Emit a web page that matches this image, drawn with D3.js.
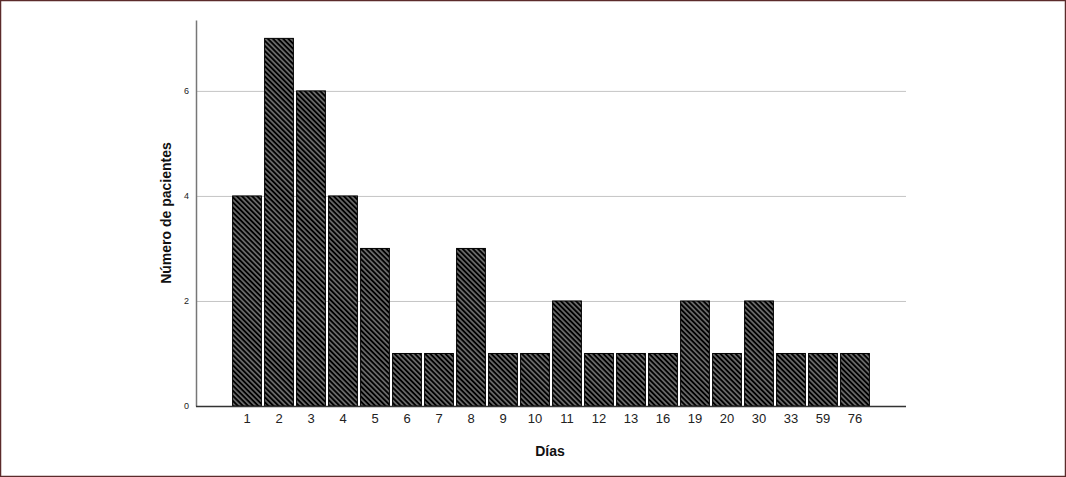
<!DOCTYPE html>
<html>
<head>
<meta charset="utf-8">
<script src="https://cdn.jsdelivr.net/npm/d3@7"></script>
<style>
  html, body { margin: 0; padding: 0; background: #fff; }
  svg { display: block; font-family: Arial, "Liberation Sans", sans-serif; }
</style>
</head>
<body>
<svg id="chart" width="1066" height="477"></svg>
<script>
  const days = ['1', '2', '3', '4', '5', '6', '7', '8', '9', '10', '11', '12', '13', '16', '19', '20', '30', '33', '59', '76'];
  const patients = [4, 7, 6, 4, 3, 1, 1, 3, 1, 1, 2, 1, 1, 1, 2, 1, 2, 1, 1, 1];
  const yTicks = [0, 2, 4, 6];

  {
    const svg = d3.select('#chart');
    const plotLeft = 196, plotRight = 906, plotTop = 20, plotBottom = 406;

    // frame
    svg.append('rect')
      .attr('x', 0.5).attr('y', 0.5)
      .attr('width', 1065).attr('height', 476)
      .attr('fill', 'none')
      .attr('stroke', '#5b2b2b')
      .attr('stroke-width', 1.5);

    const defs = svg.append('defs');
    const pat = defs.append('pattern')
      .attr('id', 'hatch')
      .attr('patternUnits', 'userSpaceOnUse')
      .attr('width', 3.6).attr('height', 3.6)
      .attr('patternTransform', 'rotate(-45)');
    pat.append('rect').attr('width', 3.6).attr('height', 3.6).attr('fill', '#000');
    pat.append('line')
      .attr('x1', 1.8).attr('y1', 0).attr('x2', 1.8).attr('y2', 3.6)
      .attr('stroke', '#b8b8b8').attr('stroke-width', 1);

    const x = d3.scaleBand()
      .domain(days)
      .range([plotLeft + 35, plotRight - 35])
      .paddingInner(0.1)
      .paddingOuter(0.05);

    const y = d3.scaleLinear()
      .domain([0, 7.35])
      .range([plotBottom, plotTop]);

    // gridlines
    svg.append('g')
      .selectAll('line')
      .data(yTicks.filter(d => d > 0))
      .join('line')
      .attr('x1', plotLeft).attr('x2', plotRight)
      .attr('y1', d => y(d) + 0.5).attr('y2', d => y(d) + 0.5)
      .attr('stroke', '#c4c4c4')
      .attr('stroke-width', 1);

    // bars
    svg.append('g')
      .selectAll('rect')
      .data(patients)
      .join('rect')
      .attr('x', (d, i) => x(days[i]))
      .attr('y', d => y(d))
      .attr('width', x.bandwidth())
      .attr('height', d => y(0) - y(d))
      .attr('fill', 'url(#hatch)')
      .attr('stroke', '#000')
      .attr('stroke-width', 1);

    // y axis
    const yAxis = svg.append('g')
      .attr('transform', `translate(${plotLeft},0)`)
      .call(d3.axisLeft(y).tickValues(yTicks).tickSize(0).tickPadding(7));
    yAxis.select('.domain').attr('stroke', '#777').attr('stroke-width', 1.5);
    yAxis.selectAll('text').attr('font-size', 9).attr('fill', '#222');

    // x axis
    const xAxis = svg.append('g')
      .attr('transform', `translate(0,${plotBottom})`)
      .call(d3.axisBottom(x).tickSize(0).tickPadding(8).tickSizeOuter(0));
    xAxis.select('.domain').attr('d', `M${plotLeft},0.5H${plotRight}`).attr('stroke', '#333').attr('stroke-width', 1.5);
    xAxis.selectAll('text').attr('font-size', 13).attr('fill', '#222');

    // titles
    svg.append('text')
      .attr('x', 550).attr('y', 456)
      .attr('text-anchor', 'middle')
      .attr('font-size', 14).attr('font-weight', 'bold').attr('fill', '#111')
      .text('Días');

    svg.append('text')
      .attr('transform', 'translate(171,213) rotate(-90)')
      .attr('text-anchor', 'middle')
      .attr('font-size', 14).attr('font-weight', 'bold').attr('fill', '#111')
      .text('Número de pacientes');
  }
</script>
</body>
</html>
